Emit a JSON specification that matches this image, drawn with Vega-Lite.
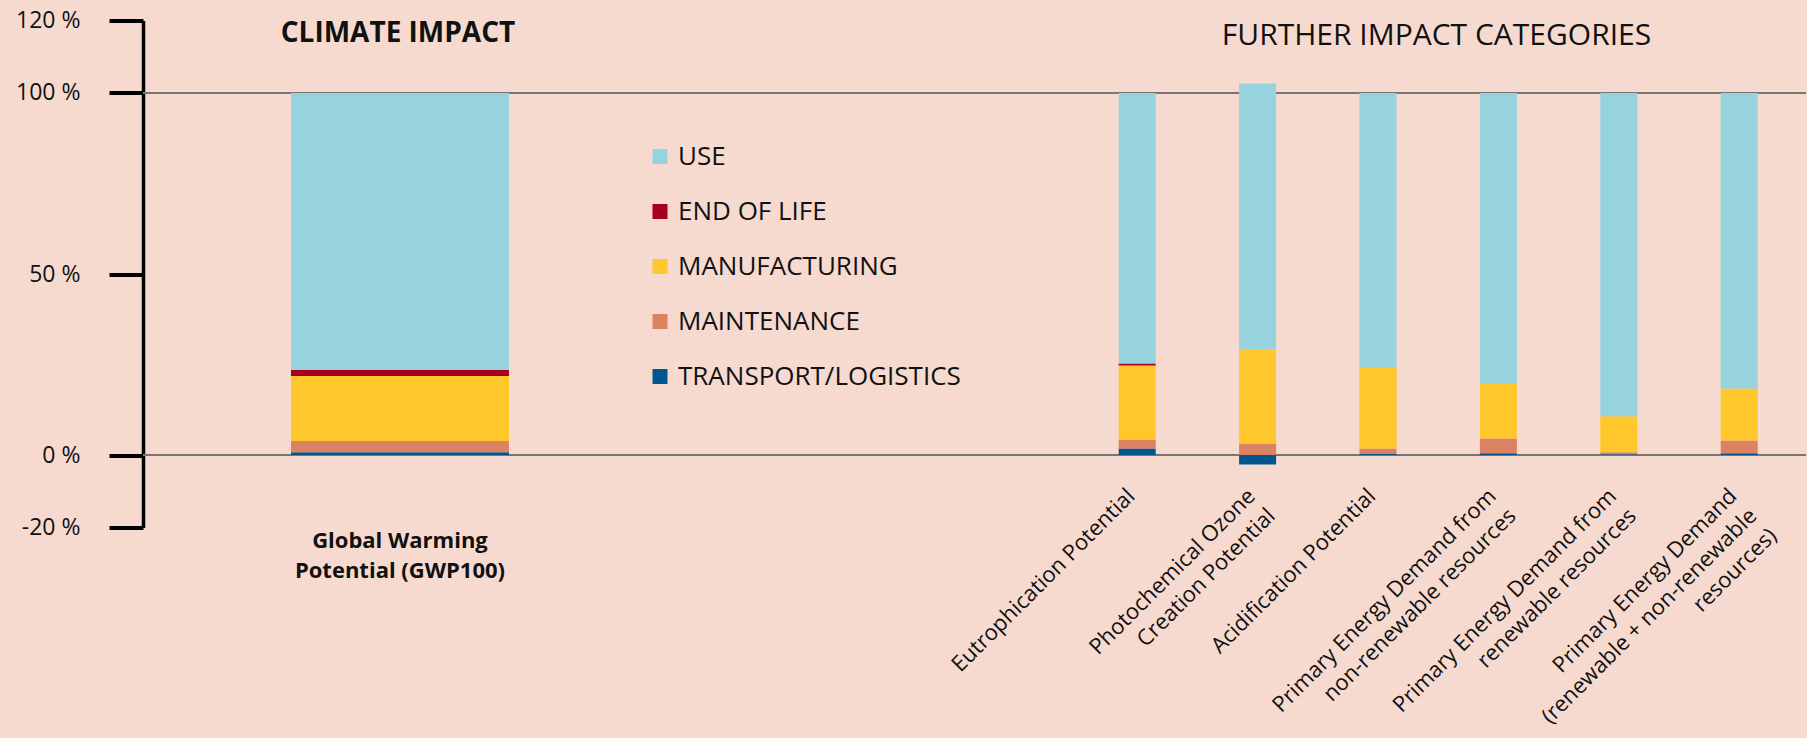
{
  "$schema": "https://vega.github.io/schema/vega-lite/v6.json",
  "background": "#f6dad0",
  "padding": {"left": 15, "top": 9.5, "right": 0, "bottom": 0},
  "bounds": "flush",
  "spacing": 0,
  "config": {
    "font": "Open Sans",
    "view": {"stroke": null},
    "axis": {"labelColor": "#111111", "labelFont": "Open Sans", "labelLimit": 0},
    "legend": {"labelColor": "#111111", "labelFont": "Open Sans", "labelLimit": 0},
    "title": {"color": "#111111", "font": "Open Sans"}
  },
  "datasets": {
    "lca": [
      {"impact": "Climate impact", "category": "Global Warming\nPotential (GWP100)", "stage": "TRANSPORT/LOGISTICS", "share": 0.8},
      {"impact": "Climate impact", "category": "Global Warming\nPotential (GWP100)", "stage": "MAINTENANCE", "share": 3.1},
      {"impact": "Climate impact", "category": "Global Warming\nPotential (GWP100)", "stage": "MANUFACTURING", "share": 17.9},
      {"impact": "Climate impact", "category": "Global Warming\nPotential (GWP100)", "stage": "END OF LIFE", "share": 1.7},
      {"impact": "Climate impact", "category": "Global Warming\nPotential (GWP100)", "stage": "USE", "share": 76.5},

      {"impact": "Further impact categories", "category": "Eutrophication Potential", "stage": "TRANSPORT/LOGISTICS", "share": 1.8},
      {"impact": "Further impact categories", "category": "Eutrophication Potential", "stage": "MAINTENANCE", "share": 2.5},
      {"impact": "Further impact categories", "category": "Eutrophication Potential", "stage": "MANUFACTURING", "share": 20.4},
      {"impact": "Further impact categories", "category": "Eutrophication Potential", "stage": "END OF LIFE", "share": 0.6},
      {"impact": "Further impact categories", "category": "Eutrophication Potential", "stage": "USE", "share": 74.7},

      {"impact": "Further impact categories", "category": "Photochemical Ozone\nCreation Potential", "stage": "TRANSPORT/LOGISTICS", "share": -2.6},
      {"impact": "Further impact categories", "category": "Photochemical Ozone\nCreation Potential", "stage": "MAINTENANCE", "share": 3.2},
      {"impact": "Further impact categories", "category": "Photochemical Ozone\nCreation Potential", "stage": "MANUFACTURING", "share": 26.0},
      {"impact": "Further impact categories", "category": "Photochemical Ozone\nCreation Potential", "stage": "END OF LIFE", "share": 0},
      {"impact": "Further impact categories", "category": "Photochemical Ozone\nCreation Potential", "stage": "USE", "share": 73.4},

      {"impact": "Further impact categories", "category": "Acidification Potential", "stage": "TRANSPORT/LOGISTICS", "share": 0.3},
      {"impact": "Further impact categories", "category": "Acidification Potential", "stage": "MAINTENANCE", "share": 1.5},
      {"impact": "Further impact categories", "category": "Acidification Potential", "stage": "MANUFACTURING", "share": 22.5},
      {"impact": "Further impact categories", "category": "Acidification Potential", "stage": "END OF LIFE", "share": 0},
      {"impact": "Further impact categories", "category": "Acidification Potential", "stage": "USE", "share": 75.7},

      {"impact": "Further impact categories", "category": "Primary Energy Demand from\nnon-renewable resources", "stage": "TRANSPORT/LOGISTICS", "share": 0.5},
      {"impact": "Further impact categories", "category": "Primary Energy Demand from\nnon-renewable resources", "stage": "MAINTENANCE", "share": 4.1},
      {"impact": "Further impact categories", "category": "Primary Energy Demand from\nnon-renewable resources", "stage": "MANUFACTURING", "share": 15.3},
      {"impact": "Further impact categories", "category": "Primary Energy Demand from\nnon-renewable resources", "stage": "END OF LIFE", "share": 0},
      {"impact": "Further impact categories", "category": "Primary Energy Demand from\nnon-renewable resources", "stage": "USE", "share": 80.1},

      {"impact": "Further impact categories", "category": "Primary Energy Demand from\nrenewable resources", "stage": "TRANSPORT/LOGISTICS", "share": 0.2},
      {"impact": "Further impact categories", "category": "Primary Energy Demand from\nrenewable resources", "stage": "MAINTENANCE", "share": 0.6},
      {"impact": "Further impact categories", "category": "Primary Energy Demand from\nrenewable resources", "stage": "MANUFACTURING", "share": 9.9},
      {"impact": "Further impact categories", "category": "Primary Energy Demand from\nrenewable resources", "stage": "END OF LIFE", "share": 0},
      {"impact": "Further impact categories", "category": "Primary Energy Demand from\nrenewable resources", "stage": "USE", "share": 89.3},

      {"impact": "Further impact categories", "category": "Primary Energy Demand\n(renewable + non-renewable\nresources)", "stage": "TRANSPORT/LOGISTICS", "share": 0.5},
      {"impact": "Further impact categories", "category": "Primary Energy Demand\n(renewable + non-renewable\nresources)", "stage": "MAINTENANCE", "share": 3.5},
      {"impact": "Further impact categories", "category": "Primary Energy Demand\n(renewable + non-renewable\nresources)", "stage": "MANUFACTURING", "share": 14.4},
      {"impact": "Further impact categories", "category": "Primary Energy Demand\n(renewable + non-renewable\nresources)", "stage": "END OF LIFE", "share": 0},
      {"impact": "Further impact categories", "category": "Primary Energy Demand\n(renewable + non-renewable\nresources)", "stage": "USE", "share": 81.6}
    ],
    "refs": [{"level": 0}, {"level": 100}]
  },
  "hconcat": [
    {
      "width": 934,
      "height": 507,
      "title": {"text": "CLIMATE IMPACT", "fontSize": 28, "fontWeight": "bold", "anchor": "middle", "dx": -212, "dy": 60, "offset": 0, "baseline": "alphabetic"},
      "layer": [
        {
          "data": {"name": "refs"},
          "mark": {"type": "rule", "color": "#7a7474", "strokeWidth": 2},
          "encoding": {
            "y": {
              "field": "level", "type": "quantitative",
              "scale": {"domain": [-20, 120], "nice": false},
              "axis": {"title": null, "values": [-20, 0, 50, 100, 120], "labelExpr": "datum.value + ' %'", "grid": false, "domainColor": "#000000", "domainWidth": 3.5, "tickColor": "#000000", "tickWidth": 4, "tickSize": 34, "labelFontSize": 23, "labelPadding": 29}
            }
          }
        },
        {
          "data": {"name": "lca"},
          "transform": [
            {"filter": "datum.impact === 'Climate impact'"},
            {"calculate": "indexof(['TRANSPORT/LOGISTICS', 'MAINTENANCE', 'MANUFACTURING', 'END OF LIFE', 'USE'], datum.stage)", "as": "stack_rank"}
          ],
          "mark": {"type": "bar", "width": 218},
          "encoding": {
            "x": {
              "field": "category", "type": "nominal",
              "scale": {"paddingInner": 0, "paddingOuter": 1, "align": 0.1627},
              "axis": {"title": null, "labelAngle": 0, "labelFontSize": 22, "labelFontWeight": "bold", "labelLineHeight": 30, "labelPadding": 3, "domain": false, "ticks": false, "labelExpr": "split(datum.label, '\\n')", "labelBaseline": "top"}
            },
            "y": {
              "field": "share", "type": "quantitative", "stack": "zero",
              "scale": {"domain": [-20, 120], "nice": false},
              "axis": {"title": null, "values": [-20, 0, 50, 100, 120], "labelExpr": "datum.value + ' %'", "grid": false, "domainColor": "#000000", "domainWidth": 3.5, "tickColor": "#000000", "tickWidth": 4, "tickSize": 34, "labelFontSize": 23, "labelPadding": 29}
            },
            "order": {"field": "stack_rank", "type": "quantitative", "sort": "ascending"},
            "color": {
              "field": "stage", "type": "nominal",
              "scale": {"domain": ["USE", "END OF LIFE", "MANUFACTURING", "MAINTENANCE", "TRANSPORT/LOGISTICS"], "range": ["#97d3df", "#a6001e", "#ffc72c", "#db8262", "#00568f"]},
              "legend": {"title": null, "orient": "none", "legendX": 504, "legendY": 123, "padding": 0, "symbolType": "square", "symbolSize": 225, "symbolStrokeWidth": 0, "labelFontSize": 26, "labelOffset": 5, "rowPadding": 29}
            }
          }
        }
      ]
    },
    {
      "width": 729,
      "height": 443.6,
      "title": {"text": "FURTHER IMPACT CATEGORIES", "fontSize": 30, "fontWeight": "normal", "anchor": "middle", "dx": -5, "dy": 54, "offset": 0, "baseline": "alphabetic"},
      "layer": [
        {
          "data": {"name": "refs"},
          "mark": {"type": "rule", "color": "#7a7474", "strokeWidth": 2},
          "encoding": {"y": {"field": "level", "type": "quantitative", "scale": {"domain": [-2.5, 120], "nice": false}, "axis": null}}
        },
        {
          "data": {"name": "lca"},
          "transform": [
            {"filter": "datum.impact === 'Further impact categories'"},
            {"calculate": "indexof(['TRANSPORT/LOGISTICS', 'MAINTENANCE', 'MANUFACTURING', 'END OF LIFE', 'USE'], datum.stage)", "as": "stack_rank"}
          ],
          "mark": {"type": "bar", "width": 37},
          "encoding": {
            "x": {
              "field": "category", "type": "nominal",
              "sort": ["Eutrophication Potential", "Photochemical Ozone\nCreation Potential", "Acidification Potential", "Primary Energy Demand from\nnon-renewable resources", "Primary Energy Demand from\nrenewable resources", "Primary Energy Demand\n(renewable + non-renewable\nresources)"],
              "scale": {"paddingInner": 0, "paddingOuter": 0.0275, "align": 0},
              "axis": {"title": null, "labelAngle": -45, "labelAlign": "right", "labelBaseline": "middle", "labelFontSize": 22, "labelLineHeight": 28, "labelPadding": 28, "labelOffset": -6, "domain": false, "ticks": false, "labelExpr": "split(datum.label, '\\n')"}
            },
            "y": {
              "field": "share", "type": "quantitative", "stack": "zero",
              "scale": {"domain": [-2.5, 120], "nice": false},
              "axis": null
            },
            "order": {"field": "stack_rank", "type": "quantitative", "sort": "ascending"},
            "color": {"field": "stage", "type": "nominal"}
          }
        }
      ]
    }
  ],
  "resolve": {"scale": {"y": "independent", "x": "independent"}}
}
